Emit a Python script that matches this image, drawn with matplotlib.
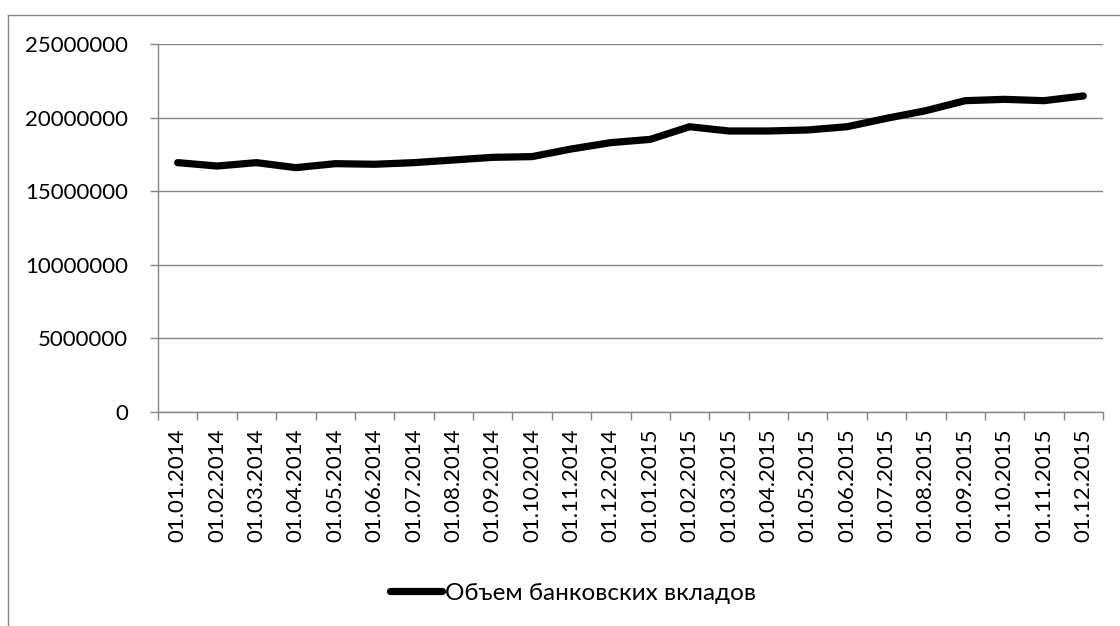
import matplotlib
matplotlib.use("Agg")
import matplotlib.pyplot as plt
from matplotlib.lines import Line2D
import numpy as np

plt.rcParams['font.family'] = ['Lato', 'Noto Sans', 'DejaVu Sans']

dates = ["01.01.2014", "01.02.2014", "01.03.2014", "01.04.2014", "01.05.2014",
         "01.06.2014", "01.07.2014", "01.08.2014", "01.09.2014", "01.10.2014",
         "01.11.2014", "01.12.2014", "01.01.2015", "01.02.2015", "01.03.2015",
         "01.04.2015", "01.05.2015", "01.06.2015", "01.07.2015", "01.08.2015",
         "01.09.2015", "01.10.2015", "01.11.2015", "01.12.2015"]
deposits = [16940000, 16710000, 16940000, 16600000, 16870000, 16830000,
            16940000, 17120000, 17300000, 17350000, 17870000, 18300000,
            18520000, 19380000, 19090000, 19090000, 19160000, 19380000,
            19950000, 20470000, 21150000, 21240000, 21150000, 21470000]
yticks = [0, 5000000, 10000000, 15000000, 20000000, 25000000]
series_name = "Объем банковских вкладов"

W, H = 1120, 626
fig = plt.figure(figsize=(W / 100, H / 100), dpi=100)
grid_c = '#868686'

# outer chart border (partially visible)
fig.add_artist(Line2D([8 / W, 1.0], [1 - 15 / H, 1 - 15 / H], transform=fig.transFigure,
                      color=grid_c, lw=1.0))
fig.add_artist(Line2D([8 / W, 8 / W], [0, 1 - 15 / H], transform=fig.transFigure,
                      color=grid_c, lw=1.0))

ax = fig.add_axes([158 / W, (H - 412) / H, 945 / W, 368 / H])
x = np.arange(len(dates))
ax.plot(x, deposits, color='black', lw=5.2, solid_capstyle='round',
        solid_joinstyle='round', label=series_name, zorder=3)

ax.set_xlim(-0.5, len(dates) - 0.5)
ax.set_ylim(0, 25000000)
ax.set_yticks(yticks)
ax.set_yticklabels([str(v) for v in yticks])
ax.yaxis.grid(True, color=grid_c, lw=1.0)
ax.set_axisbelow(True)

ax.set_xticks(np.arange(-0.5, len(dates)), labels=[])
ax.set_xticks(x, labels=dates, minor=True, rotation=90)
ax.tick_params(axis='x', which='major', length=5.8, color=grid_c, width=1.0)
ax.tick_params(axis='x', which='minor', length=0, pad=12, labelsize=16)
ax.tick_params(axis='y', length=5.8, color=grid_c, width=1.0, pad=15.5, labelsize=16)

for s in ['top', 'right']:
    ax.spines[s].set_visible(False)
for s in ['left', 'bottom']:
    ax.spines[s].set_color(grid_c)
    ax.spines[s].set_linewidth(1.0)

leg = fig.legend(handles=[Line2D([0], [0], color='black', lw=5.2, solid_capstyle='round')],
                 labels=[series_name], loc='center left',
                 bbox_to_anchor=(390 / W, 1 - 593 / H), frameon=False,
                 fontsize=17.5, handlelength=2.15, handletextpad=0.12, borderpad=0,
                 borderaxespad=0)

fig.savefig('out.png', dpi=100)
